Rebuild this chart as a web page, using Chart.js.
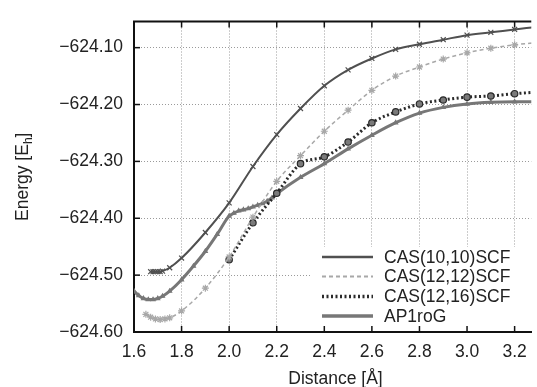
<!DOCTYPE html>
<html><head><meta charset="utf-8">
<script src="https://cdn.jsdelivr.net/npm/chart.js@4.4.0/dist/chart.umd.min.js"></script>
<style>html,body{margin:0;padding:0;background:#fff;}</style>
</head><body>
<canvas id="c" width="537" height="387"></canvas>
<script>
// ---- data ----
const seriesLabels = ["CAS(10,10)SCF", "CAS(12,12)SCF", "CAS(12,16)SCF", "AP1roG"];

const dist1010 = [1.67,1.68,1.69,1.70,1.71,1.72,1.75,1.8,1.9,2.0,2.1,2.2,2.3,2.4,2.5,2.6,2.7,2.8,2.9,3.0,3.1,3.2,3.3];
const e1010    = [-624.494,-624.494,-624.494,-624.494,-624.494,-624.493,-624.487,-624.470,-624.425,-624.373,-624.309,-624.253,-624.207,-624.167,-624.139,-624.119,-624.103,-624.094,-624.086,-624.078,-624.073,-624.068,-624.063];

const dist1212 = [1.65,1.67,1.69,1.71,1.73,1.75,1.8,1.9,2.0,2.1,2.2,2.3,2.4,2.5,2.6,2.7,2.8,2.9,3.0,3.1,3.2,3.3];
const e1212    = [-624.569,-624.574,-624.577,-624.578,-624.577,-624.575,-624.563,-624.523,-624.468,-624.398,-624.335,-624.290,-624.247,-624.210,-624.175,-624.150,-624.134,-624.120,-624.109,-624.101,-624.095,-624.091];

const dist1216 = [2.0,2.1,2.2,2.3,2.4,2.5,2.6,2.7,2.8,2.9,3.0,3.1,3.2,3.3];
const e1216    = [-624.473,-624.408,-624.356,-624.304,-624.292,-624.266,-624.232,-624.213,-624.199,-624.192,-624.187,-624.185,-624.181,-624.178];

const distAP = [1.6,1.62,1.64,1.66,1.68,1.70,1.72,1.75,1.8,1.85,1.9,1.95,2.0,2.02,2.04,2.06,2.08,2.1,2.12,2.14,2.16,2.18,2.2,2.3,2.4,2.5,2.6,2.7,2.8,2.9,3.0,3.1,3.2,3.3];
const eAP    = [-624.528,-624.536,-624.541,-624.543,-624.543,-624.541,-624.537,-624.528,-624.508,-624.484,-624.458,-624.428,-624.396,-624.391,-624.387,-624.385,-624.383,-624.380,-624.377,-624.374,-624.370,-624.364,-624.357,-624.328,-624.304,-624.278,-624.254,-624.232,-624.215,-624.205,-624.199,-624.196,-624.195,-624.195];

const xTicks = [1.6,1.8,2.0,2.2,2.4,2.6,2.8,3.0,3.2];
const yTicks = [-624.60,-624.50,-624.40,-624.30,-624.20,-624.10];
const xTitle = "Distance [Å]";
const yTitleMain = "Energy [E", yTitleSub = "h", yTitleEnd = "]";

const pts = (xs, ys) => xs.map((x, i) => ({x: x, y: ys[i]}));
const FONT = "'Liberation Sans', Arial, Helvetica, sans-serif";

const styles = [
  {color:'#505050', width:2, dash:[], pstyle:'crossRot', r:3.5, bg:'#505050'},
  {color:'#a8a8a8', width:1.5, dash:[4,3], pstyle:'star', r:3.5, bg:'#d0d0d0'},
  {color:'#2a2a2a', width:3, dash:[2,2.5], pstyle:'circle', r:3.2, bg:'#7a7a7a'},
  {color:'#777777', width:3, dash:[], pstyle:'triangle', r:2.2, bg:'#777777'}
];
const seriesData = [pts(dist1010,e1010), pts(dist1212,e1212), pts(dist1216,e1216), pts(distAP,eAP)];

const datasets = seriesData.map((d, i) => ({
  label: seriesLabels[i],
  data: d,
  borderColor: styles[i].color,
  borderWidth: styles[i].width,
  borderDash: styles[i].dash,
  pointStyle: styles[i].pstyle,
  pointRadius: styles[i].r,
  pointBorderColor: styles[i].color,
  pointBackgroundColor: styles[i].bg,
  pointBorderWidth: 1.2,
  cubicInterpolationMode: 'monotone',
  fill: false
}));

const legendBox = {
  id: 'legendBox',
  beforeDatasetsDraw(chart) {
    const ctx = chart.ctx;
    ctx.save();
    ctx.fillStyle = '#ffffff';
    ctx.fillRect(310, 247, 224, chart.chartArea.bottom - 247 - 1);
    ctx.restore();
  },
  afterDraw(chart) {
    const ctx = chart.ctx, a = chart.chartArea;
    const xs = chart.scales.x, ys = chart.scales.y;
    ctx.save();
    // top frame
    ctx.strokeStyle = '#111'; ctx.lineWidth = 2;
    ctx.beginPath(); ctx.moveTo(a.left - 1, a.top); ctx.lineTo(a.right, a.top); ctx.stroke();
    // inward tick marks
    ctx.lineWidth = 1.5;
    xTicks.forEach(v => {
      const px = xs.getPixelForValue(v);
      ctx.beginPath(); ctx.moveTo(px, a.bottom); ctx.lineTo(px, a.bottom - 6); ctx.stroke();
      ctx.beginPath(); ctx.moveTo(px, a.top); ctx.lineTo(px, a.top + 6); ctx.stroke();
    });
    yTicks.forEach(v => {
      const py = ys.getPixelForValue(v);
      ctx.beginPath(); ctx.moveTo(a.left, py); ctx.lineTo(a.left + 6, py); ctx.stroke();
    });
    // legend
    const rows = [258, 277.5, 297.5, 317];
    ctx.font = "17.5px " + FONT;
    ctx.textBaseline = 'middle';
    ctx.textAlign = 'left';
    seriesLabels.forEach((lab, i) => {
      const s = styles[i];
      ctx.strokeStyle = s.color;
      ctx.lineWidth = (i === 3) ? 3.5 : (i === 1 ? 2 : s.width + 0.5);
      ctx.setLineDash(s.dash);
      ctx.beginPath(); ctx.moveTo(322, rows[i] - 1); ctx.lineTo(373, rows[i] - 1); ctx.stroke();
      ctx.setLineDash([]);
      ctx.fillStyle = '#222';
      ctx.fillText(lab, 384, rows[i]);
    });
    // x title
    ctx.textAlign = 'center';
    ctx.textBaseline = 'alphabetic';
    ctx.fillText(xTitle, (a.left + 537) / 2, 384);
    // y title with subscript
    ctx.translate(28, (a.top + a.bottom) / 2);
    ctx.rotate(-Math.PI / 2);
    ctx.textAlign = 'left';
    ctx.font = "17.5px " + FONT;
    const w1 = ctx.measureText(yTitleMain).width;
    const w3 = ctx.measureText(yTitleEnd).width;
    ctx.font = "12px " + FONT;
    const w2 = ctx.measureText(yTitleSub).width;
    let x0 = -(w1 + w2 + w3) / 2;
    ctx.font = "17.5px " + FONT;
    ctx.fillText(yTitleMain, x0, 0);
    ctx.font = "12px " + FONT;
    ctx.fillText(yTitleSub, x0 + w1, 4);
    ctx.font = "17.5px " + FONT;
    ctx.fillText(yTitleEnd, x0 + w1 + w2, 0);
    ctx.restore();
  }
};

new Chart(document.getElementById('c'), {
  type: 'line',
  data: { datasets: datasets },
  options: {
    responsive: false,
    animation: false,
    layout: { padding: { top: 15, left: 0, right: 0, bottom: 0 } },
    plugins: { legend: { display: false }, tooltip: { enabled: false } },
    scales: {
      x: {
        type: 'linear', min: 1.6, max: 3.27,
        afterBuildTicks: s => { s.ticks = xTicks.map(v => ({value: v})); },
        afterFit: s => { s.height = 55; },
        ticks: { callback: v => v.toFixed(1), font: {size: 17.5, family: FONT}, color: '#222', padding: 10, maxRotation: 0, autoSkip: false },
        grid: { color: '#9a9a9a', lineWidth: 1, drawTicks: false },
        border: { display: true, color: '#111', width: 2, dash: [1, 2] }
      },
      y: {
        type: 'linear', min: -624.6, max: -624.054,
        afterBuildTicks: s => { s.ticks = yTicks.map(v => ({value: v})); },
        afterFit: s => { s.width = 134; },
        ticks: { callback: v => '\u2212' + Math.abs(v).toFixed(2), font: {size: 17.5, family: FONT}, color: '#222', padding: 11 },
        grid: { color: '#9a9a9a', lineWidth: 1, drawTicks: false },
        border: { display: true, color: '#111', width: 2, dash: [1, 2] }
      }
    }
  },
  plugins: [legendBox]
});
</script>
</body></html>
